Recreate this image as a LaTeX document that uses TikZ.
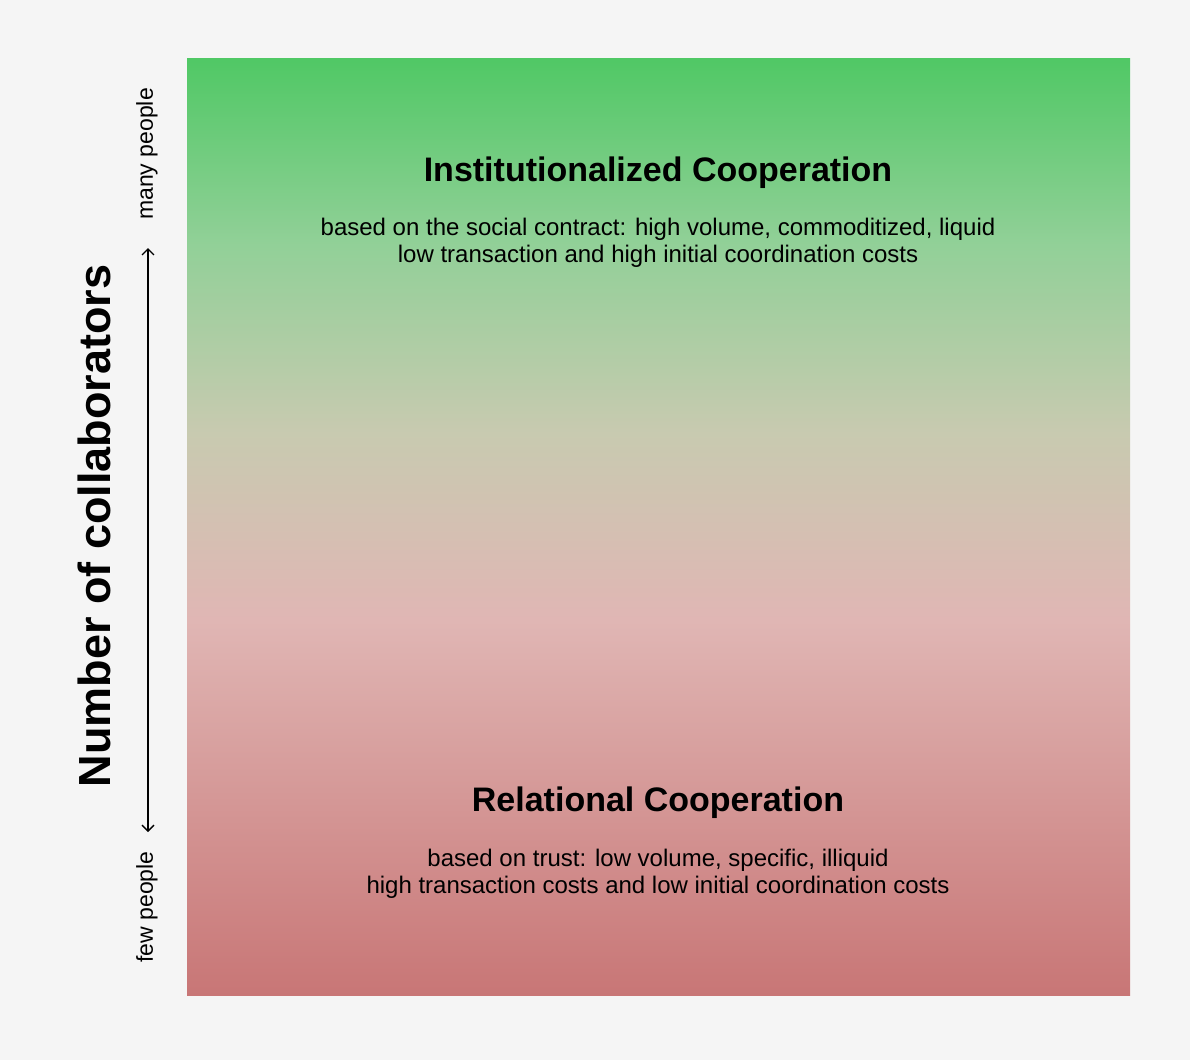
\documentclass[tikz,border=0pt]{standalone}
\usepackage{fontspec}
\setmainfont{Liberation Sans}
\usepackage{xcolor}
\usepackage{tikz}
\usetikzlibrary{arrows.meta,positioning}

\definecolor{pagebg}{HTML}{F5F5F5}
\definecolor{topgreen}{HTML}{50C865}
\definecolor{lightgreen}{HTML}{92D098}
\definecolor{midgrey}{HTML}{C8CAB0}
\definecolor{palepink}{HTML}{E0B6B4}
\definecolor{botred}{HTML}{C87676}

% path covers 25bp..75bp of the shading
\pgfdeclareverticalshading{coopshade}{100bp}{%
  color(0bp)=(botred); color(25bp)=(botred); color(45bp)=(palepink);
  color(55bp)=(midgrey); color(65bp)=(lightgreen); color(75bp)=(topgreen);
  color(100bp)=(topgreen)}

\begin{document}
\begin{tikzpicture}[
    x=1pt, y=-1pt,
    title/.style={font=\fontsize{34}{40}\selectfont\bfseries, anchor=base},
    desc/.style={font=\fontsize{24}{27}\selectfont, align=center, anchor=base},
    side/.style={font=\fontsize{23}{26}\selectfont, rotate=90},
    arr/.style={{Straight Barb[length=6pt,width=12pt]}-{Straight Barb[length=6pt,width=12pt]}, line width=1.4pt}
]
% page
\fill[pagebg] (0,0) rectangle (1190,1060);
\useasboundingbox (0,0) rectangle (1190,1060);

% colour field
\shade[shading=coopshade] (187,58) rectangle (1130,995);

% upper part
\node[title] (inst) at (658,181) {Institutionalized Cooperation};
\node[desc] (instdesc) at (658,262) {based on the social contract: high volume, commoditized, liquid\\low transaction and high initial coordination costs};

% lower part
\node[title] (rel) at (658,811) {Relational Cooperation};
\node[desc] (reldesc) at (658,893) {based on trust: low volume, specific, illiquid\\high transaction costs and low initial coordination costs};

% axis
\node[font=\fontsize{45}{50}\selectfont\bfseries, rotate=90] (axis) at (94,526) {Number of collaborators};
\node[side] (many) at (147,154) {many people};
\node[side] (few) at (147,907) {few people};
\coordinate (up) at (148,248);
\coordinate (down) at (148,832);
\draw[arr] (down) -- (up);
\end{tikzpicture}
\end{document}
